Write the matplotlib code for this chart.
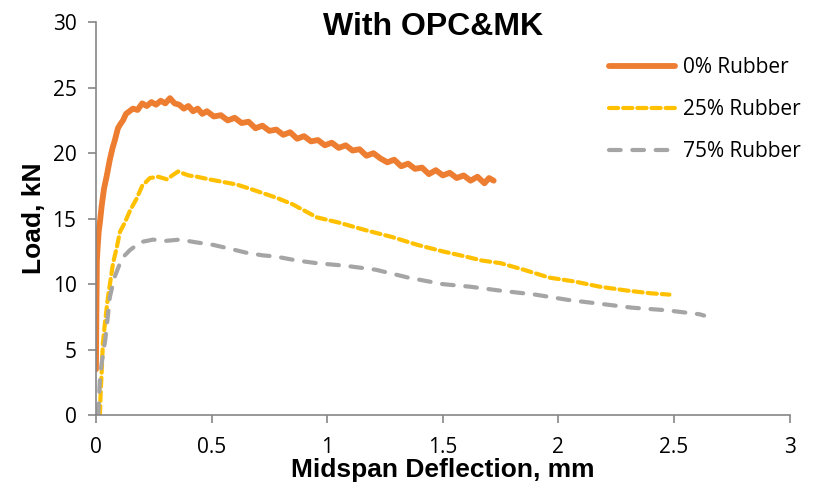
import matplotlib
matplotlib.use("Agg")
import matplotlib.pyplot as plt

x0 = [0.0, 0.002, 0.004, 0.008, 0.012, 0.017, 0.025, 0.035, 0.046, 0.06, 0.072, 0.082, 0.095, 0.105, 0.117,
      0.13, 0.145, 0.16, 0.18, 0.2, 0.22, 0.24, 0.26, 0.28, 0.3, 0.32, 0.34, 0.36, 0.38, 0.40, 0.42, 0.44,
      0.46, 0.48, 0.51, 0.54, 0.57, 0.60, 0.63, 0.66, 0.69, 0.72, 0.75, 0.78, 0.81, 0.84, 0.87, 0.90,
      0.93, 0.96, 0.99, 1.02, 1.05, 1.08, 1.11, 1.14, 1.17, 1.20, 1.23, 1.26, 1.29, 1.32, 1.35, 1.38,
      1.41, 1.44, 1.47, 1.50, 1.53, 1.56, 1.59, 1.62, 1.65, 1.68, 1.70, 1.72]
y0 = [3.5, 8.0, 11.8, 13.0, 14.0, 14.7, 16.0, 17.3, 18.2, 19.5, 20.4, 21.0, 21.9, 22.2, 22.5,
      23.0, 23.2, 23.4, 23.3, 23.8, 23.6, 23.9, 23.7, 24.0, 23.8, 24.2, 23.8, 23.7, 23.4, 23.6, 23.2, 23.4,
      23.0, 23.2, 22.8, 22.9, 22.5, 22.7, 22.3, 22.4, 21.9, 22.1, 21.7, 21.8, 21.4, 21.6, 21.1, 21.3,
      20.9, 21.0, 20.6, 20.8, 20.4, 20.6, 20.2, 20.3, 19.8, 20.0, 19.6, 19.3, 19.5, 19.0, 19.2, 18.8,
      18.9, 18.4, 18.7, 18.3, 18.5, 18.1, 18.3, 17.9, 18.2, 17.7, 18.1, 17.9]

# 25% Rubber
x25 = [0.017, 0.02, 0.025, 0.03, 0.04, 0.052, 0.063, 0.074, 0.09, 0.104, 0.125, 0.147, 0.175, 0.2, 0.233,
       0.27, 0.307, 0.33, 0.355, 0.40, 0.437, 0.49, 0.55, 0.61, 0.68, 0.73, 0.78, 0.85, 0.955, 1.05,
       1.17, 1.28, 1.39, 1.50, 1.60, 1.67, 1.75, 1.85, 1.96, 2.07, 2.18, 2.30, 2.40, 2.48]
y25 = [0.0, 1.5, 3.4, 5.5, 7.2, 9.0, 10.3, 11.6, 12.8, 14.0, 14.7, 15.6, 16.5, 17.5, 18.1,
       18.2, 18.0, 18.3, 18.6, 18.3, 18.2, 18.0, 17.8, 17.6, 17.2, 16.9, 16.6, 16.1, 15.1, 14.7,
       14.1, 13.6, 13.0, 12.5, 12.1, 11.8, 11.6, 11.1, 10.5, 10.2, 9.8, 9.5, 9.3, 9.2]

# 75% Rubber
x75 = [0.01, 0.013, 0.017, 0.025, 0.04, 0.05, 0.06, 0.08, 0.104, 0.125, 0.147, 0.17, 0.19, 0.22, 0.247,
       0.30, 0.363, 0.43, 0.506, 0.58, 0.65, 0.72, 0.78, 0.87, 0.955, 1.08, 1.21, 1.35, 1.50, 1.62,
       1.75, 1.90, 2.04, 2.18, 2.32, 2.47, 2.61, 2.63]
y75 = [0.0, 1.2, 2.7, 4.0, 5.7, 7.3, 9.0, 10.5, 11.6, 12.2, 12.6, 12.9, 13.2, 13.3, 13.4,
       13.3, 13.4, 13.2, 13.0, 12.7, 12.4, 12.2, 12.1, 11.8, 11.6, 11.4, 11.1, 10.5, 10.0, 9.8,
       9.5, 9.2, 8.8, 8.5, 8.2, 8.0, 7.7, 7.6]

labels = ["0% Rubber", "25% Rubber", "75% Rubber"]
colors = ["#ED7D31", "#FFC000", "#A5A5A5"]

fig = plt.figure(figsize=(8.2, 4.93), dpi=100)
ax = fig.add_axes([0.117, 0.158, 0.846, 0.797])

ax.plot(x0, y0, color=colors[0], lw=4.2, label=labels[0], solid_capstyle="round", solid_joinstyle="round")
ax.plot(x25, y25, color=colors[1], lw=3.0, label=labels[1], dashes=(2.2, 1.2), dash_capstyle="round")
ax.plot(x75, y75, color=colors[2], lw=3.0, label=labels[2], dashes=(2.8, 2.8), dash_capstyle="round")

ax.set_xlim(0, 3)
ax.set_ylim(0, 30)
ax.set_xticks([0, 0.5, 1, 1.5, 2, 2.5, 3])
ax.set_xticklabels(["0", "0.5", "1", "1.5", "2", "2.5", "3"])
ax.set_yticks([0, 5, 10, 15, 20, 25, 30])

for s in ["top", "right"]:
    ax.spines[s].set_visible(False)
for s in ["left", "bottom"]:
    ax.spines[s].set_color("#868686")
    ax.spines[s].set_linewidth(1.2)
ax.tick_params(axis="both", colors="#868686", length=6, width=1.2, direction="out",
               labelcolor="black", labelsize=15)
ax.tick_params(axis="x", pad=10)
ax.tick_params(axis="y", pad=8)
for t in ax.get_xticklabels() + ax.get_yticklabels():
    t.set_family("Open Sans")

ax.set_xlabel("Midspan Deflection, mm", fontsize=19, fontweight="bold", family="Liberation Sans", labelpad=0)
ax.set_ylabel("Load, kN", fontsize=19, fontweight="bold", family="Liberation Sans", labelpad=5)
fig.text(0.528, 0.945, "With OPC&MK", ha="center", va="center", fontsize=23, fontweight="bold",
         family="Liberation Sans")

leg = ax.legend(loc="upper left", bbox_to_anchor=(0.712, 0.958), frameon=False,
                prop={"family": "Open Sans", "size": 15}, handlelength=3.2, handletextpad=0.35,
                labelspacing=1.0)

fig.savefig("out.png", dpi=100)
